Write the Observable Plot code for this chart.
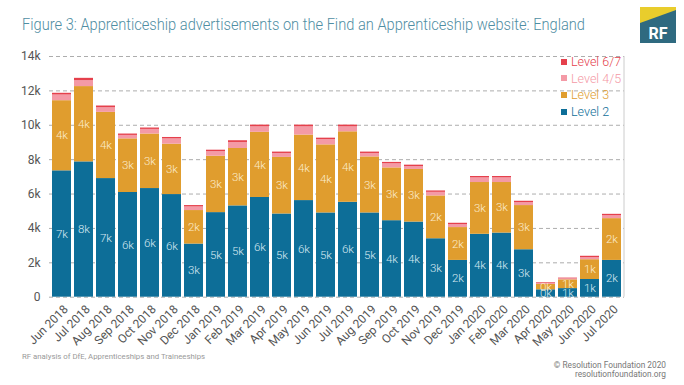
<!DOCTYPE html>
<html>
<head>
<meta charset="utf-8">
<script src="https://cdn.jsdelivr.net/npm/d3@7"></script>
<script src="https://cdn.jsdelivr.net/npm/@observablehq/plot@0.6"></script>
<style>
  body { margin: 0; background: #fff; }
  #wrap { position: relative; width: 684px; height: 385px; overflow: hidden; font-family: Roboto, "Noto Sans", sans-serif; }
  #chart { position: absolute; left: 0; top: 40px; }
  #legend { position: absolute; left: 561px; top: 54px; font-size: 12.5px; font-weight: 300; }
  #legend div { height: 16.7px; line-height: 16.7px; white-space: nowrap; }
  #legend span.sw { display: inline-block; width: 6px; height: 6px; margin-right: 4px; vertical-align: middle; position: relative; top: -1px; }
  svg.deco { position: absolute; left: 0; top: 0; }
</style>
</head>
<body>
<div id="wrap">
  <svg class="deco" width="684" height="385" id="deco"></svg>
  <div id="chart"></div>
  <div id="legend"></div>
</div>
<script>
const title = "Figure 3: Apprenticeship advertisements on the Find an Apprenticeship website: England";
const sourceNote = "RF analysis of DfE, Apprenticeships and Traineeships";
const creditLines = ["© Resolution Foundation 2020", "resolutionfoundation.org"];

const months = ["Jun 2018","Jul 2018","Aug 2018","Sep 2018","Oct 2018","Nov 2018","Dec 2018",
  "Jan 2019","Feb 2019","Mar 2019","Apr 2019","May 2019","Jun 2019","Jul 2019","Aug 2019",
  "Sep 2019","Oct 2019","Nov 2019","Dec 2019","Jan 2020","Feb 2020","Mar 2020","Apr 2020",
  "May 2020","Jun 2020","Jul 2020"];

const levels = ["Level 2", "Level 3", "Level 4/5", "Level 6/7"];
const levelColors = ["#0d6e98", "#e09d2e", "#f49aa6", "#e5404c"];
const labelColors = {"Level 2": "#d6e8f0", "Level 3": "#fbeccc"};

const level2  = [7350,7870,6900,6090,6320,5970,3090,4920,5310,5800,4840,5620,4900,5520,4900,4450,4370,3400,2140,3660,3730,2760,430,500,1030,2140];
const level3  = [4080,4380,3850,3120,3170,2930,1950,3280,3340,3790,3290,3810,3960,4100,3260,3070,3060,2490,1910,3010,2940,2570,310,510,1150,2430];
const level45 = [330,350,270,200,270,310,210,270,350,320,230,480,310,290,200,240,170,210,170,270,270,170,60,60,120,170];
const level67 = [100,130,100,80,80,80,80,80,100,100,80,100,80,100,80,80,80,80,80,80,80,80,40,40,80,80];

const yTicks = [0,2000,4000,6000,8000,10000,12000,14000];

const seriesValues = [level2, level3, level45, level67];
const data = [];
levels.forEach((lv, i) => months.forEach((m, j) => data.push({month: m, level: lv, value: seriesValues[i][j]})));

const fmtK = v => Math.round(v / 1000) + "k";

const plot = Plot.plot({
  width: 684,
  height: 320,
  marginTop: 16,
  marginBottom: 63.3,
  marginLeft: 49,
  marginRight: 60,
  style: {fontFamily: "Roboto, 'Noto Sans', sans-serif", fontSize: "11px", color: "#555", background: "transparent"},
  x: {domain: months, paddingInner: 0.13, paddingOuter: 0.07, label: null},
  y: {domain: [0, 14000], label: null},
  color: {domain: levels, range: levelColors},
  marks: [
    Plot.gridY(yTicks, {stroke: "#999", strokeOpacity: 0.8, strokeDasharray: "4,3"}),
    Plot.barY(data, {x: "month", y: "value", fill: "level", z: "level", order: levels}),
    Plot.text(data.filter(d => d.level === "Level 2" || d.level === "Level 3"),
      Plot.stackY({x: "month", y: "value", z: "level", order: levels,
        text: d => fmtK(d.value), fill: d => labelColors[d.level], fontSize: 11.5, fontWeight: 300})),
    Plot.axisY({ticks: yTicks, tickSize: 0, tickPadding: 9, tickFormat: d => d === 0 ? "0" : fmtK(d), fontSize: 12, fill: "#555"}),
    Plot.axisX({tickSize: 0, tickPadding: 10, dx: 4, tickRotate: -45, fontSize: 12, fill: "#555"})
  ]
});
document.getElementById("chart").appendChild(plot);

// right border line of the plot frame, placed from the scales
const xs = plot.scale("x").range, ys = plot.scale("y").range;
d3.select(plot).append("line")
  .attr("x1", xs[1]).attr("x2", xs[1]).attr("y1", ys[0]).attr("y2", ys[1])
  .attr("stroke", "#ccc").attr("stroke-width", 1);

// legend (top series first)
const legend = d3.select("#legend");
levels.slice().reverse().forEach(lv => {
  const c = levelColors[levels.indexOf(lv)];
  const row = legend.append("div").style("color", c);
  row.append("span").attr("class", "sw").style("background", c);
  row.append("span").text(lv);
});

// title, logo, footer
const deco = d3.select("#deco");
deco.append("text").attr("x", 22).attr("y", 30).attr("fill", "#4f8ea3")
  .attr("font-size", 16.5).attr("font-weight", 300)
  .attr("textLength", 563).attr("lengthAdjust", "spacingAndGlyphs").text(title);
const lg = deco.append("g");
lg.append("rect").attr("x", 640).attr("y", 7).attr("width", 36).attr("height", 36).attr("fill", "#2f6a80");
lg.append("path").attr("d", "M640,7H676V10L640,23Z").attr("fill", "#e9cd2c");
lg.append("text").attr("x", 658).attr("y", 39).attr("text-anchor", "middle").attr("fill", "#fff")
  .attr("font-size", 16).attr("font-weight", 700).attr("font-family", "Roboto, sans-serif").text("RF");
deco.append("text").attr("x", 22).attr("y", 359).attr("fill", "#999").attr("font-size", 7.8).text(sourceNote);
creditLines.forEach((t, i) => deco.append("text").attr("x", 666).attr("y", 368 + i * 9)
  .attr("text-anchor", "end").attr("fill", "#777").attr("font-size", 8.3).text(t));
</script>
</body>
</html>
